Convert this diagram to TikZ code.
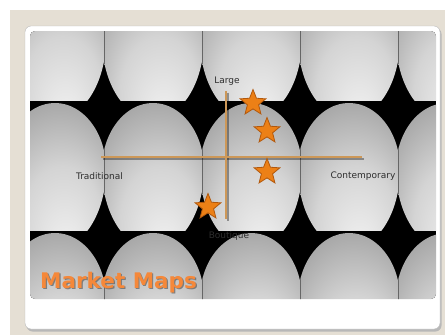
\documentclass[tikz,border=0pt]{standalone}
\usepackage{fontspec}
\setmainfont{DejaVu Sans}
\usetikzlibrary{shapes.geometric}
\definecolor{bgbeige}{RGB}{229,223,212}
\definecolor{axiscol}{RGB}{205,152,88}
\definecolor{starfill}{RGB}{236,128,22}
\definecolor{stardraw}{RGB}{178,88,12}
\definecolor{titlecol}{RGB}{245,136,58}
\definecolor{eggA}{RGB}{244,244,244}
\definecolor{eggB}{RGB}{212,212,212}
\definecolor{eggC}{RGB}{150,150,150}
\definecolor{eggD}{RGB}{125,125,125}
\definecolor{lbltext}{RGB}{45,45,45}
\pgfdeclareradialshading{eggshade}{\pgfpoint{6bp}{-28bp}}{color(0bp)=(eggA); color(20bp)=(eggB); color(40bp)=(eggC); color(50bp)=(eggD)}
\tikzset{
  lbl/.style={text=lbltext, font=\fontsize{9}{10}\selectfont, inner sep=0pt},
  starmark/.style={star, star points=5, star point ratio=2.3, minimum size=27pt, inner sep=0pt,
    fill=starfill, draw=stardraw, line width=0.8pt},
  axisline/.style={axiscol, line width=2pt},
  axisshadow/.style={black, opacity=0.35, line width=2pt},
  titlestyle/.style={text=titlecol, font=\fontsize{21.5}{24}\selectfont\bfseries, inner sep=0pt},
  titleshadow/.style={text=black!70, opacity=0.6, font=\fontsize{21.5}{24}\selectfont\bfseries, inner sep=0pt}
}
\newcommand{\eggpath}[2]{(#1-51,#2) arc[start angle=180, end angle=360, x radius=51, y radius=66] arc[start angle=0, end angle=180, x radius=51, y radius=80] -- cycle}
\begin{document}
\begin{tikzpicture}[x=1pt,y=-1pt]
\useasboundingbox (0,0) rectangle (445,335);
\fill[white] (0,0) rectangle (445,335);
\fill[bgbeige] (10,10) rectangle (445,335);
% card
\fill[black!28, rounded corners=6pt] (26.5,28) rectangle (441.5,331.5);
\draw[gray!55, fill=white, rounded corners=6pt] (25,26) rectangle (440,329);
% egg image
\begin{scope}
  \clip[rounded corners=5pt] (30,31) rectangle (436,299);
  \fill[black] (30,31) rectangle (436,299);
  \foreach \r in {-28,102,232} {
    \foreach \c in {6,104,202,300,398} {
      \begin{scope}
        \clip (\c,\r) rectangle ++(98,128);
        \clip \eggpath{\c+49}{\r+67};
        \shade[shading=eggshade] \eggpath{\c+49}{\r+67};
        \draw[black!60, line width=1pt] (\c,\r) -- ++(0,130);
        \draw[black!60, line width=1pt] (\c+98,\r) -- ++(0,130);
      \end{scope}
    }
  }
\end{scope}
% axes
\coordinate (hl) at (101,157);
\coordinate (hr) at (362,157);
\coordinate (vt) at (226,91);
\coordinate (vb) at (226,219);
\draw[axisshadow] ([shift={(1.5,1.5)}]hl) -- ([shift={(1.5,1.5)}]hr);
\draw[axisshadow] ([shift={(1.5,1.5)}]vt) -- ([shift={(1.5,1.5)}]vb);
\draw[axisline] (hl) -- (hr);
\draw[axisline] (vt) -- (vb);
% labels
\node[lbl] (large) at (227,81) {Large};
\node[lbl] (trad) at (99.5,176) {Traditional};
\node[lbl] (cont) at (363,176) {Contemporary};
\node[lbl] (bout) at (229,236) {Boutique};
% stars
\node[starmark] (s1) at (253,103) {};
\node[starmark] (s2) at (267,131) {};
\node[starmark] (s3) at (267,172) {};
\node[starmark] (s4) at (208,207) {};
% title
\node[titleshadow, anchor=base west] (titlesh) at (41.2,289.2) {Market Maps};
\node[titlestyle, anchor=base west] (title) at (40,288) {Market Maps};
\end{tikzpicture}
\end{document}
